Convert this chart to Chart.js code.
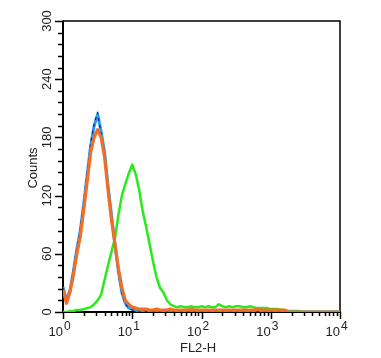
<!DOCTYPE html>
<html lang="en">
<head>
  <meta charset="UTF-8">
  <title>FL2-H histogram</title>
  <style>
    html, body { margin: 0; padding: 0; background: #fff; }
    #wrap { width: 381px; height: 358px; }
  </style>
  <script src="https://cdn.jsdelivr.net/npm/chart.js@4.4.0/dist/chart.umd.min.js"></script>
</head>
<body>
  <div id="wrap"><canvas id="histo" width="381" height="358"></canvas></div>

  <script>
    // bins are in log10 decades: 0, 0.05, 0.10 ... 4.0
    const binStart = 0;
    const binStep = 0.05;

    const orangeCounts = [23, 9, 20, 38, 60, 78, 106, 135, 165, 180, 188, 180, 160, 126, 95, 70, 45, 25, 12, 8,
      5, 4, 3, 3, 3, 2, 2, 3, 2, 2, 2, 3, 2, 2, 2, 2, 2, 3, 2, 2,
      2, 2, 2, 2, 2, 2, 2, 2, 2, 2, 2, 2, 2, 2, 2, 2, 3, 2, 2, 2,
      2, 2, 2, 2, 2, 0, 0, 0, 0, 0, 0, 0, 0, 0, 0, 0, 0, 0, 0, 0, 0];

    const blueCounts = [26, 12, 22, 42, 65, 84, 112, 142, 172, 192, 204, 186, 165, 130, 100, 70, 42, 20, 9, 4,
      3, 2, 1, 1, 1, 1, 1, 1, 1, 1, 1, 0, 0, 0, 0, 0, 0, 0, 0, 0,
      0, 0, 0, 0, 0, 0, 0, 0, 0, 0, 0, 0, 0, 0, 0, 0, 0, 0, 0, 0,
      0, 0, 0, 0, 0, 0, 0, 0, 0, 0, 0, 0, 0, 0, 0, 0, 0, 0, 0, 0, 0];

    const navyCounts = [25, 12, 23, 43, 66, 85, 114, 144, 174, 194, 206, 184, 163, 128, 98, 68, 40, 19, 8, 4,
      2, 2, 1, 1, 1, 1, 1, 1, 1, 1, 0, 0, 0, 0, 0, 0, 0, 0, 0, 0,
      0, 0, 0, 0, 0, 0, 0, 0, 0, 0, 0, 0, 0, 0, 0, 0, 0, 0, 0, 0,
      0, 0, 0, 0, 0, 0, 0, 0, 0, 0, 0, 0, 0, 0, 0, 0, 0, 0, 0, 0, 0];

    const greenCounts = [0, 0, 1, 1, 2, 2, 3, 4, 5, 8, 12, 18, 33, 48, 62, 76, 100, 120, 132, 143,
      152, 142, 126, 104, 88, 70, 52, 36, 25, 20, 12, 8, 6, 5, 6, 5, 5, 6, 5, 5,
      6, 5, 6, 5, 5, 8, 6, 5, 6, 5, 6, 6, 5, 5, 6, 5, 4, 4, 4, 4,
      3, 3, 3, 2, 2, 1, 1, 1, 1, 0, 0, 0, 0, 0, 0, 0, 0, 0, 0, 0, 0];

    const yTicks = [0, 60, 120, 180, 240, 300];
    const yMinorStep = 12;
    const xExponents = [0, 1, 2, 3, 4];
    const xLabel = 'FL2-H';
    const yLabel = 'Counts';

    function toPoints(counts) {
      return counts.map((c, i) => ({ x: binStart + i * binStep, y: c }));
    }

    const FONT = '"Liberation Sans", Arial, sans-serif';

    // axes, ticks, frame and labels drawn from the scales
    const axesPlugin = {
      id: 'flowAxes',
      beforeDatasetsDraw(chart) {
        const ctx = chart.ctx;
        const area = chart.chartArea;
        const xs = chart.scales.x;
        const ys = chart.scales.y;
        ctx.save();
        ctx.strokeStyle = '#000';

        // frame top / right
        ctx.lineWidth = 1.5;
        ctx.beginPath();
        ctx.moveTo(area.left, area.top);
        ctx.lineTo(area.right, area.top);
        ctx.lineTo(area.right, area.bottom);
        ctx.stroke();

        // axis lines
        ctx.lineWidth = 2;
        ctx.beginPath();
        ctx.moveTo(area.left, area.top - 0.5);
        ctx.lineTo(area.left, area.bottom);
        ctx.lineTo(area.right + 0.75, area.bottom);
        ctx.stroke();

        // y ticks
        ctx.lineWidth = 1.5;
        for (let v = yTicks[0]; v <= yTicks[yTicks.length - 1]; v += yMinorStep) {
          const py = Math.round(ys.getPixelForValue(v)) + 0.5;
          const len = yTicks.includes(v) ? 8 : 5;
          ctx.beginPath();
          ctx.moveTo(area.left - len, py);
          ctx.lineTo(area.left, py);
          ctx.stroke();
        }

        // x ticks (log decades with minor 2..9)
        for (let e = 0; e < xExponents.length; e++) {
          const d = xExponents[e];
          const px = Math.round(xs.getPixelForValue(d)) + 0.5;
          ctx.beginPath();
          ctx.moveTo(px, area.bottom);
          ctx.lineTo(px, area.bottom + 7);
          ctx.stroke();
          if (e === xExponents.length - 1) break;
          for (let m = 2; m <= 9; m++) {
            const mx = Math.round(xs.getPixelForValue(d + Math.log10(m))) + 0.5;
            ctx.beginPath();
            ctx.moveTo(mx, area.bottom);
            ctx.lineTo(mx, area.bottom + 4);
            ctx.stroke();
          }
        }

        ctx.fillStyle = '#222';

        // y tick labels, rotated
        ctx.font = '13px ' + FONT;
        ctx.textAlign = 'center';
        ctx.textBaseline = 'middle';
        yTicks.forEach(v => {
          const py = ys.getPixelForValue(v);
          ctx.save();
          ctx.translate(47, py);
          ctx.rotate(-Math.PI / 2);
          ctx.fillText(String(v), 0, 0);
          ctx.restore();
        });

        // x tick labels 10^n
        ctx.textBaseline = 'alphabetic';
        xExponents.forEach(d => {
          const px = xs.getPixelForValue(d);
          ctx.font = '13px ' + FONT;
          ctx.textAlign = 'right';
          ctx.fillText('10', px, 336);
          ctx.font = '12px ' + FONT;
          ctx.textAlign = 'left';
          ctx.fillText(String(d), px + 1, 330);
        });

        // axis titles
        ctx.font = '13px ' + FONT;
        ctx.textAlign = 'center';
        ctx.fillText(xLabel, 198, 352);
        ctx.save();
        ctx.translate(37, 168);
        ctx.rotate(-Math.PI / 2);
        ctx.textBaseline = 'alphabetic';
        ctx.fillText(yLabel, 0, 0);
        ctx.restore();

        ctx.restore();
      }
    };

    const common = {
      pointRadius: 0,
      tension: 0,
      fill: false,
      borderJoinStyle: 'round'
    };

    new Chart(document.getElementById('histo'), {
      type: 'line',
      data: {
        datasets: [
          Object.assign({ label: 'orange', data: toPoints(orangeCounts), borderColor: 'rgb(240,110,40)', borderWidth: 3.2 }, common),
          Object.assign({ label: 'navy', data: toPoints(navyCounts), borderColor: 'rgb(30,30,140)', borderWidth: 1.3, borderDash: [3, 4] }, common),
          Object.assign({ label: 'blue', data: toPoints(blueCounts), borderColor: 'rgb(40,155,235)', borderWidth: 3 }, common),
          Object.assign({ label: 'green', data: toPoints(greenCounts), borderColor: 'rgb(40,235,25)', borderWidth: 2.5 }, common)
        ]
      },
      options: {
        responsive: false,
        animation: false,
        layout: { padding: { left: 63, right: 41, top: 21, bottom: 46 } },
        plugins: { legend: { display: false }, tooltip: { enabled: false } },
        scales: {
          x: { type: 'linear', min: 0, max: 4, display: false },
          y: { type: 'linear', min: 0, max: 300, display: false }
        }
      },
      plugins: [axesPlugin]
    });
  </script>
</body>
</html>
